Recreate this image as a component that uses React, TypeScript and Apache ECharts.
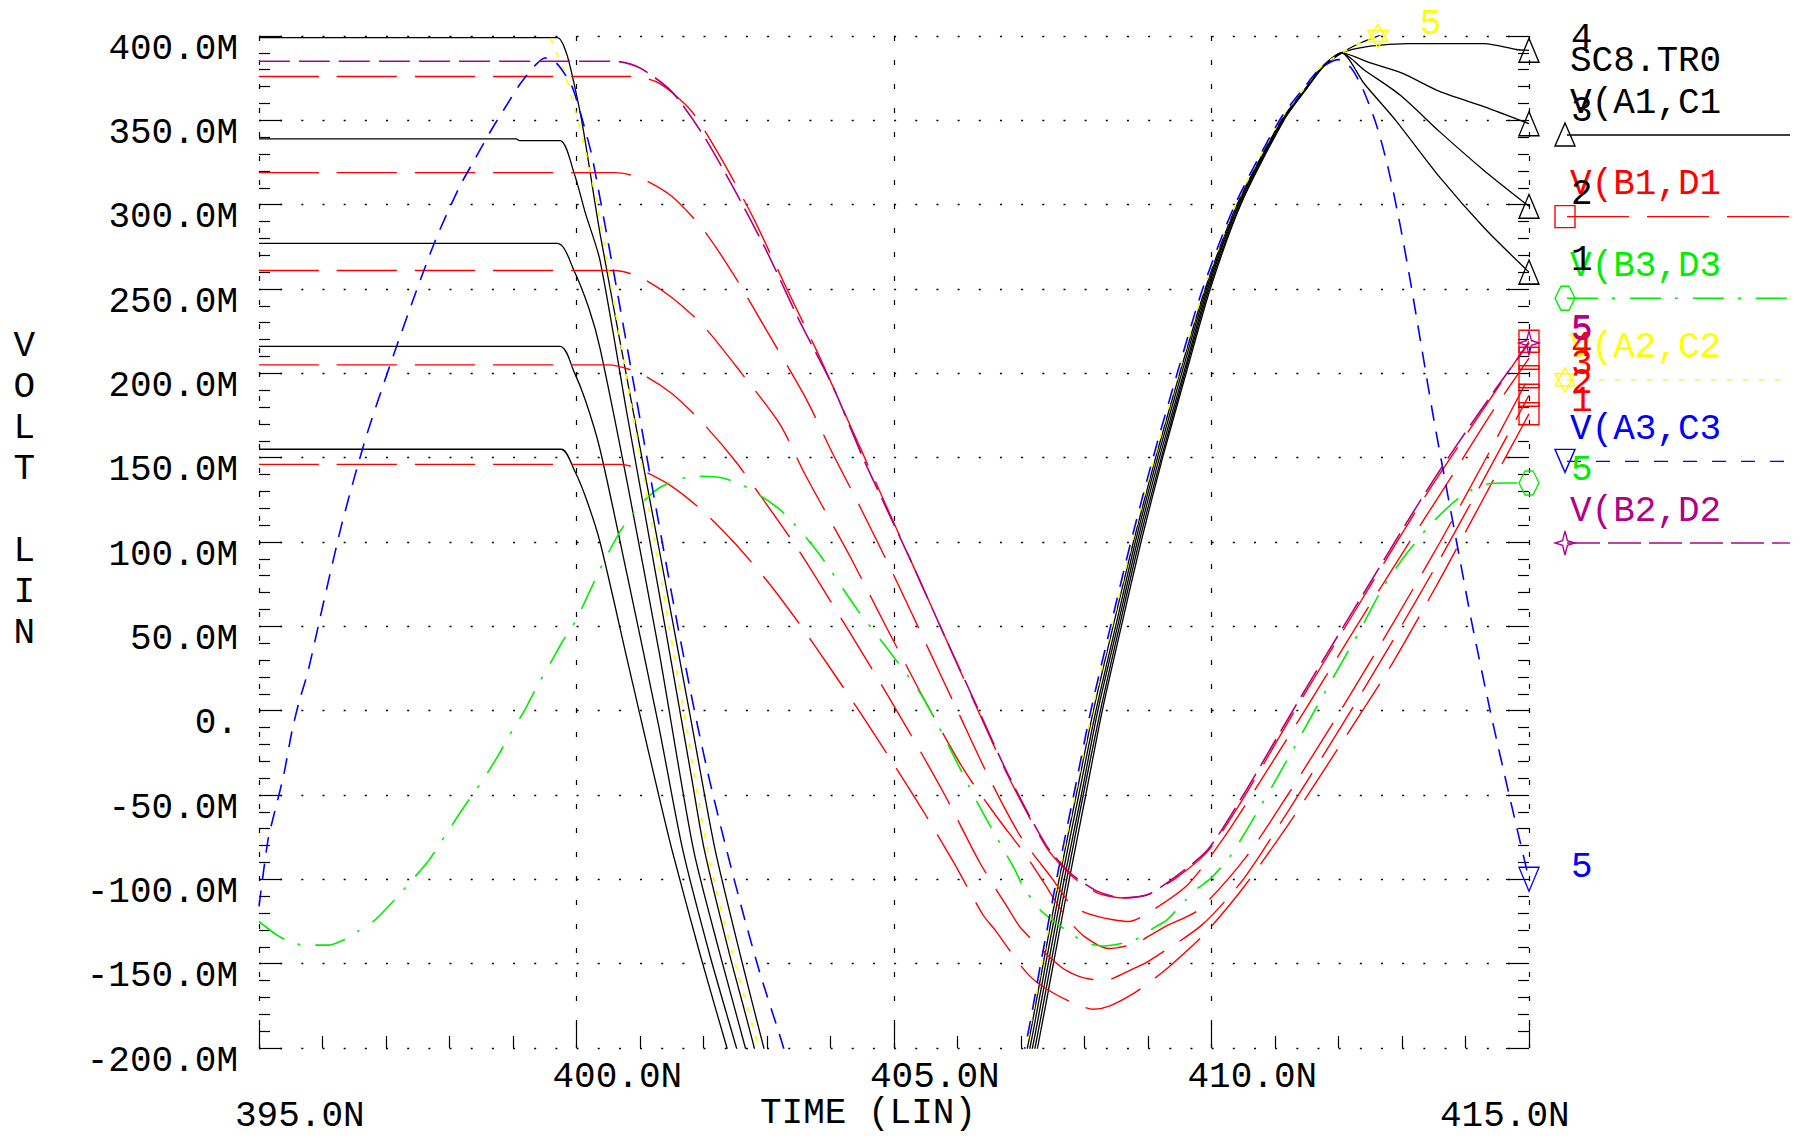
import React, { useEffect, useRef } from "react";
import * as echarts from "echarts";

const FONT = '"Liberation Mono", "DejaVu Sans Mono", monospace';

// ---------- texts ----------
const X_TICK_LABELS = ["395.0N", "400.0N", "405.0N", "410.0N", "415.0N"];
const X_LOW_ROW = [true, false, false, false, true];
const Y_TICK_LABELS = [
  "-200.0M", "-150.0M", "-100.0M", "-50.0M", "0.", "50.0M", "100.0M",
  "150.0M", "200.0M", "250.0M", "300.0M", "350.0M", "400.0M",
];
const X_NAME = "TIME (LIN)";
const Y_NAME = ["V", "O", "L", "T", " ", "L", "I", "N"];
const FILE_NAME = "SC8.TR0";
const SIGNAL_NAMES = ["V(A1,C1", "V(B1,D1", "V(B3,D3", "V(A2,C2", "V(A3,C3", "V(B2,D2"];

// ---------- data: [time (ns), value (mV)] ----------
// V(A1,C1), sweeps 1..5
const A1C1_1 = [[395,155],[399.76,155],[399.96,143],[400.14,127],[400.37,100],[400.8,30],[401.2,-35],[401.5,-82],[401.95,-145],[402.37,-200],[402.8,-255],[404.8,-340],[406.7,-265],[407.1,-200],[407.35,-150],[407.6,-100],[407.87,-50],[408.14,0],[408.45,50],[408.77,100],[409.12,150],[409.5,200],[409.9,250],[410.4,300],[411.1,350],[411.5,370],[411.75,382],[412.05,390],[412.4,372],[412.9,350],[413.6,316],[414.3,286],[415,260]];
const A1C1_2 = [[395,216],[399.74,216],[399.96,201],[400.14,184],[400.37,155],[400.8,80],[401.3,-10],[401.67,-82],[402.1,-145],[402.52,-200],[402.9,-250],[404.8,-340],[406.75,-265],[407.14,-200],[407.39,-150],[407.64,-100],[407.91,-50],[408.18,0],[408.49,50],[408.8,100],[409.15,150],[409.53,200],[409.92,250],[410.42,300],[411.11,350],[411.51,370],[411.75,382],[412.05,390],[412.4,380],[412.97,365],[413.6,343],[414.3,320],[415,299]];
const A1C1_3 = [[395,277],[399.7,277],[399.96,261],[400.2,238],[400.37,215],[400.8,135],[401.3,35],[401.84,-82],[402.25,-143],[402.66,-200],[403.0,-250],[404.8,-340],[406.8,-265],[407.18,-200],[407.43,-150],[407.68,-100],[407.95,-50],[408.21,0],[408.52,50],[408.83,100],[409.18,150],[409.56,200],[409.94,250],[410.43,300],[411.12,350],[411.51,370],[411.76,382],[412.05,390],[412.5,384],[413.0,378],[413.6,367],[414.3,358],[415,348]];
const A1C1_4 = [[395,339],[399.05,339],[399.1,338],[399.74,338],[399.96,319],[400.14,295],[400.37,267],[400.8,175],[401.3,70],[401.8,-37],[402.01,-82],[402.4,-143],[402.8,-200],[403.1,-250],[404.8,-340],[406.85,-265],[407.22,-200],[407.47,-150],[407.72,-100],[407.98,-50],[408.25,0],[408.55,50],[408.86,100],[409.21,150],[409.58,200],[409.96,250],[410.45,300],[411.13,350],[411.52,370],[411.76,382],[412.05,390],[412.5,394],[413.1,395.5],[414.3,395.5],[414.8,392],[415,391.5]];
const A1C1_5 = [[395,399],[399.7,399],[399.84,390],[399.96,372],[400.1,346],[400.37,283],[400.8,196],[401.3,96],[401.8,-5],[402.18,-82],[402.58,-145],[402.95,-200],[403.3,-250],[404.8,-340],[406.9,-265],[407.26,-200],[407.51,-150],[407.76,-100],[408.02,-50],[408.28,0],[408.58,50],[408.89,100],[409.23,150],[409.6,200],[409.98,250],[410.46,300],[411.14,350],[411.52,370],[411.77,382],[412.05,390],[412.35,396],[412.62,400],[413.0,408],[413.5,415],[414.2,420]];

// V(B1,D1), sweeps 1..5
const B1D1_1 = [[395,146],[400.7,146],[401.0,143],[401.5,133],[402.0,118],[402.5,99],[403.0,77],[403.5,52],[404.0,25],[404.5,-3],[405.0,-32],[405.5,-62],[405.94,-90],[406.4,-121],[406.59,-130],[407.08,-155],[407.36,-164],[407.8,-173],[408.14,-177],[408.4,-175],[408.8,-167],[409.13,-158],[409.36,-151],[409.9,-132],[410.5,-105],[411.2,-68],[412.0,-22],[412.8,25],[413.6,78],[414.3,127],[415,176]];
const B1D1_2 = [[395,205],[400.5,205],[401.0,200],[401.5,188],[402.0,170],[402.5,148],[403.0,122],[403.5,95],[404.0,65],[404.6,28],[405.2,-10],[405.8,-50],[406.35,-90],[406.81,-118],[407.0,-129],[407.63,-152],[407.95,-158],[408.31,-160],[408.77,-153],[409.03,-148],[409.85,-127],[410.5,-100],[411.2,-60],[412.0,-12],[412.8,38],[413.6,90],[414.3,138],[415,187]];
const B1D1_3 = [[395,261],[400.6,261],[401.0,257],[401.5,245],[402.0,228],[402.6,200],[403.2,170],[403.6,140],[404.3,92],[404.9,48],[405.5,5],[406.1,-35],[406.6,-62],[407.08,-86],[407.36,-102],[407.7,-122],[408.0,-134],[408.38,-141],[408.8,-138],[409.27,-128],[409.8,-118],[410.54,-87],[411.2,-50],[412.0,-2],[412.8,48],[413.6,100],[414.3,148],[415,198]];
const B1D1_4 = [[395,319],[400.6,319],[401.0,316],[401.5,305],[402.0,285],[402.5,257],[403.0,225],[403.6,186],[404.04,152],[404.41,125],[405.0,80],[405.5,40],[406.0,0],[406.5,-40],[407.0,-75],[407.5,-100],[407.81,-116],[408.2,-122],[408.7,-125],[409.0,-120],[409.63,-103],[410.2,-75],[410.8,-40],[411.5,2],[412.2,45],[413.0,93],[413.8,140],[414.4,176],[415,209]];
const B1D1_5 = [[395,376],[400.9,376],[401.3,372],[401.8,356],[402.3,326],[402.8,291],[403.3,251],[403.8,212],[404.3,170],[404.8,128],[405.3,86],[405.8,44],[406.3,2],[406.8,-39],[407.4,-81],[407.8,-98],[408.2,-108],[408.6,-111],[409.0,-109],[409.45,-99],[409.95,-83],[410.5,-52],[411.0,-20],[411.5,12],[412.0,43],[412.5,74],[413.0,105],[413.5,135],[414.0,163],[414.5,191],[415,219]];

// V(B3,D3)
const B3D3 = [[395,-125],[395.28,-133],[395.49,-137],[395.7,-139],[396.1,-139],[396.33,-136],[396.55,-131],[396.83,-124],[397.14,-112],[397.42,-100],[397.67,-89],[397.95,-73],[398.23,-57],[398.51,-42],[398.76,-27],[399.0,-11],[399.18,0],[399.36,13],[399.6,29],[399.78,41],[400.0,54],[400.1,62],[400.4,86],[400.7,107],[401.0,122],[401.3,132],[401.6,137],[401.9,139],[402.3,138],[402.7,132],[403.24,118],[403.78,95],[404.42,60],[404.87,38],[405.42,10],[405.78,-15],[406.32,-55],[406.72,-82],[406.9,-94],[407.03,-104],[407.3,-118],[407.63,-128],[407.99,-137],[408.3,-139.5],[408.7,-137],[408.9,-134],[409.08,-129],[409.3,-124],[409.6,-112],[409.76,-106],[410.0,-99],[410.3,-86],[410.8,-55],[411.3,-22],[411.8,12],[412.3,45],[412.7,73],[413.07,93],[413.49,112],[413.96,128],[414.3,134],[414.6,135],[415,135]];

// V(A2,C2)
const A2C2 = [[395,406],[399.5,406],[399.6,398],[399.69,390],[399.8,380],[399.93,363],[400.14,332],[400.32,301],[400.8,195],[401.3,85],[401.7,-3],[402.09,-88],[402.5,-150],[402.87,-200],[403.2,-245],[404.9,-330],[406.7,-260],[407.08,-200],[407.33,-150],[407.58,-100],[407.85,-50],[408.12,0],[408.43,50],[408.75,100],[409.1,150],[409.48,200],[409.88,250],[410.38,300],[411.08,350],[411.48,370],[411.73,382],[412.05,390],[412.35,396],[412.62,400],[413.0,408],[413.5,414]];

// V(A3,C3)
const A3C3 = [[395,-116],[395.14,-77],[395.24,-61],[395.39,-38],[395.52,-12],[395.63,5],[395.77,23],[395.95,53],[396.1,78],[396.3,110],[396.5,138],[396.7,164],[396.92,189],[397.13,212],[397.46,247],[397.79,280],[398.15,310],[398.4,327],[398.67,345],[398.85,356],[399.12,372],[399.36,383],[399.5,387],[399.62,386],[399.75,381],[399.93,370],[400.08,352],[400.23,331],[400.32,314],[400.6,257],[400.9,194],[401.2,131],[401.57,55],[401.89,-6],[402.1,-42],[402.36,-82],[402.63,-121],[402.9,-157],[403.23,-196],[403.5,-230],[405,-330],[406.6,-260],[407.06,-200],[407.31,-150],[407.56,-100],[407.83,-50],[408.1,0],[408.41,50],[408.73,100],[409.08,150],[409.46,200],[409.86,250],[410.37,300],[411.07,350],[411.47,370],[411.72,381],[412.0,386],[412.2,381],[412.39,368],[412.6,347],[412.78,322],[412.97,288],[413.13,255],[413.31,215],[413.49,175],[413.71,130],[413.9,92],[414.1,52],[414.4,-2],[414.7,-52],[415,-100]];

// V(B2,D2)
const B2D2 = [[395,385],[400.6,385],[401.0,381],[401.5,367],[402.0,341],[402.5,308],[403.0,272],[403.5,232],[404.04,192],[404.51,150],[404.83,124],[405.3,86],[405.8,44],[406.3,3],[406.8,-38],[407.4,-80],[407.8,-97],[408.2,-107],[408.6,-111],[409.0,-109],[409.45,-98],[409.95,-82],[410.5,-50],[411.0,-18],[411.5,14],[412.0,45],[412.5,76],[413.0,107],[413.5,137],[414.0,165],[414.5,192],[415,218]];

// ---------- styles ----------
const BLACK = "#000000";
const RED = "#ff0000";
const GREEN = "#00ee00";
const YELLOW = "#ffff00";
const BLUE = "#0000ff";
const MAGENTA = "#b0008c";

const SYM = {
  tri: "triangle",
  sq: "rect",
  hex: "path://M0,12L6,0L14,0L20,12L14,24L6,24Z",
  star6: "path://M10,0L20,17.5L0,17.5ZM0,6.5L20,6.5L10,24Z",
  triDown: "path://M0,0L20,0L10,24Z",
  star4: "path://M10,0L12.4,9.6L20,12L12.4,14.4L10,24L7.6,14.4L0,12L7.6,9.6Z",
};

const exitIndex = (pts: number[][]) => pts.findIndex((p) => p[0] > 410 && p[1] >= 400);
const lastIndex = (pts: number[][]) => pts.length - 1;

function lineSeries(
  name: string,
  pts: number[][],
  color: string,
  width: number,
  dash: any,
  markerIdx: number | null,
  symbol: string,
  z: number
) {
  const data = pts.map((p, i) =>
    markerIdx !== null && i === markerIdx
      ? {
          value: p,
          symbol,
          symbolSize: symbol === "rect" ? [20, 22] : [20, 24],
          itemStyle: { color: "rgba(0,0,0,0)", borderColor: color, borderWidth: 1.4, opacity: 1 },
        }
      : p
  );
  return {
    name,
    type: "line",
    data,
    symbol: "none",
    showSymbol: true,
    clip: true,
    smooth: 0.25,
    z,
    silent: true,
    lineStyle: { color, width, type: dash },
    emphasis: { disabled: true },
  };
}

function markerGraphic(kind: string, cx: number, cy: number, color: string): any {
  const style = { fill: "none", stroke: color, lineWidth: 1.4 };
  const poly = (points: number[][]) => ({ type: "polygon", shape: { points }, style });
  switch (kind) {
    case "tri":
      return poly([[cx, cy - 12], [cx + 10, cy + 11], [cx - 10, cy + 11]]);
    case "sq":
      return { type: "rect", shape: { x: cx - 10, y: cy - 11, width: 20, height: 22 }, style };
    case "hex":
      return poly([[cx - 10, cy], [cx - 4, cy - 12], [cx + 4, cy - 12], [cx + 10, cy], [cx + 4, cy + 12], [cx - 4, cy + 12]]);
    case "star6":
      return {
        type: "group",
        children: [
          poly([[cx, cy - 12], [cx + 10, cy + 6], [cx - 10, cy + 6]]),
          poly([[cx, cy + 12], [cx + 10, cy - 6], [cx - 10, cy - 6]]),
        ],
      };
    case "triDown":
      return poly([[cx - 10, cy - 12], [cx + 10, cy - 12], [cx, cy + 11]]);
    default:
      return poly([[cx, cy - 12], [cx + 2.4, cy - 2.4], [cx + 10, cy], [cx + 2.4, cy + 2.4], [cx, cy + 12], [cx - 2.4, cy + 2.4], [cx - 10, cy], [cx - 2.4, cy - 2.4]]);
  }
}

const textEl = (text: string, x: number, y: number, color: string) => ({
  type: "text",
  silent: true,
  style: {
    text,
    x,
    y,
    fill: color,
    fontSize: 36,
    fontFamily: FONT,
    textAlign: "left",
    textVerticalAlign: "middle",
  },
});

export default function App() {
  const ref = useRef<HTMLDivElement>(null);

  useEffect(() => {
    if (!ref.current) return;
    const chart = echarts.init(ref.current, null, { renderer: "svg" });

    const axisFont = { fontSize: 36, fontFamily: FONT, color: BLACK };

    const series = [
      lineSeries("A1C1_1", A1C1_1, BLACK, 1.3, "solid", lastIndex(A1C1_1), SYM.tri, 2),
      lineSeries("A1C1_2", A1C1_2, BLACK, 1.3, "solid", lastIndex(A1C1_2), SYM.tri, 2),
      lineSeries("A1C1_3", A1C1_3, BLACK, 1.3, "solid", lastIndex(A1C1_3), SYM.tri, 2),
      lineSeries("A1C1_4", A1C1_4, BLACK, 1.3, "solid", lastIndex(A1C1_4), SYM.tri, 2),
      lineSeries("A1C1_5", A1C1_5, BLACK, 1.3, "solid", null, SYM.tri, 2),
      lineSeries("B1D1_1", B1D1_1, RED, 1.4, [60, 18], lastIndex(B1D1_1), SYM.sq, 3),
      lineSeries("B1D1_2", B1D1_2, RED, 1.4, [60, 18], lastIndex(B1D1_2), SYM.sq, 3),
      lineSeries("B1D1_3", B1D1_3, RED, 1.4, [60, 18], lastIndex(B1D1_3), SYM.sq, 3),
      lineSeries("B1D1_4", B1D1_4, RED, 1.4, [60, 18], lastIndex(B1D1_4), SYM.sq, 3),
      lineSeries("B1D1_5", B1D1_5, RED, 1.4, [60, 18], lastIndex(B1D1_5), SYM.sq, 3),
      lineSeries("B3D3", B3D3, GREEN, 1.6, [31, 14, 3, 15], lastIndex(B3D3), SYM.hex, 4),
      lineSeries("A2C2", A2C2, YELLOW, 1.8, [5, 10], exitIndex(A2C2), SYM.star6, 5),
      lineSeries("A3C3", A3C3, BLUE, 1.6, [16, 11], lastIndex(A3C3), SYM.triDown, 6),
      lineSeries("B2D2", B2D2, MAGENTA, 1.6, [31, 9], lastIndex(B2D2), SYM.star4, 7),
    ];

    const option: any = {
      animation: false,
      backgroundColor: "#ffffff",
      textStyle: { fontFamily: FONT },
      grid: { left: 259, right: 274, top: 36, bottom: 90, containLabel: false, outerBoundsMode: "none" },
      xAxis: {
        type: "value",
        min: 395,
        max: 415,
        interval: 5,
        axisLine: { show: false, onZero: false },
        axisTick: { show: true, inside: true, length: 25, lineStyle: { color: BLACK, width: 1.2 } },
        minorTick: { show: true, splitNumber: 5, length: 12, lineStyle: { color: BLACK, width: 1.2 } },
        splitLine: { show: true, lineStyle: { color: BLACK, width: 1.2, type: [5, 19] } },
        axisLabel: {
          margin: 16,
          ...axisFont,
          formatter: (v: number) => {
            const i = Math.round((v - 395) / 5);
            const style = i === X_TICK_LABELS.length - 1 ? "loEnd" : X_LOW_ROW[i] ? "lo" : "hi";
            return `{${style}|${X_TICK_LABELS[i]}}`;
          },
          rich: {
            hi: { ...axisFont, width: 48, align: "left", lineHeight: 26 },
            lo: { ...axisFont, width: 48, align: "left", lineHeight: 26, padding: [78, 0, 0, 0] },
            loEnd: { ...axisFont, width: 178, align: "left", lineHeight: 26, padding: [78, 0, 0, 0] },
          },
        },
        name: X_NAME,
        nameLocation: "middle",
        nameGap: 52,
        nameMoveOverlap: false,
        nameTextStyle: { ...axisFont, lineHeight: 26, padding: [0, 52, 0, 0] },
      },
      yAxis: [
        {
          type: "value",
          min: -200,
          max: 400,
          interval: 50,
          position: "left",
          axisLine: { show: false, onZero: false },
          axisTick: { show: true, inside: true, length: 23, lineStyle: { color: BLACK, width: 1.2 } },
          minorTick: { show: true, splitNumber: 5, length: 11, lineStyle: { color: BLACK, width: 1.2 } },
          splitLine: { show: true, lineStyle: { color: BLACK, width: 1.4, type: [2, 19.17] } },
          axisLabel: {
            margin: 21,
            ...axisFont,
            verticalAlign: "top",
            lineHeight: 26,
            formatter: (v: number) => Y_TICK_LABELS[Math.round((v + 200) / 50)],
          },
          // stacked letters; a tall blank last line lifts the block above the axis centre
          name: Y_NAME.map((c) => `{ch|${c}}`).join("\n") + "\n{pad| }",
          nameLocation: "middle",
          nameRotate: 0,
          nameGap: 224,
          nameMoveOverlap: false,
          nameTextStyle: {
            ...axisFont,
            rich: {
              ch: { ...axisFont, lineHeight: 41 },
              pad: { ...axisFont, lineHeight: 104 },
            },
          },
        },
        {
          type: "value",
          min: -200,
          max: 400,
          interval: 50,
          position: "right",
          axisLine: { show: false, onZero: false },
          axisTick: { show: true, inside: true, length: 23, lineStyle: { color: BLACK, width: 1.2 } },
          minorTick: { show: true, splitNumber: 5, length: 11, lineStyle: { color: BLACK, width: 1.2 } },
          splitLine: { show: false },
          axisLabel: { show: false },
        },
      ],
      series,
    };

    chart.setOption(option);

    // ----- legend (right side) -----
    const legendLineY0 = 135;
    const legendStep = 81.6;
    const legendStyles = [
      { color: BLACK, dash: null, marker: "tri" },
      { color: RED, dash: [62, 18], marker: "sq" },
      { color: GREEN, dash: [31, 14, 3, 15], marker: "hex" },
      { color: YELLOW, dash: [5, 11], marker: "star6" },
      { color: BLUE, dash: [14, 15], marker: "triDown" },
      { color: MAGENTA, dash: [33, 8], marker: "star4" },
    ];
    const graphics: any[] = [textEl(FILE_NAME, 1570, 61, BLACK)];
    SIGNAL_NAMES.forEach((name, i) => {
      const st = legendStyles[i];
      const ly = legendLineY0 + i * legendStep;
      graphics.push(textEl(name, 1570, ly - 32, st.color));
      graphics.push({
        type: "line",
        silent: true,
        shape: { x1: 1567, y1: ly, x2: 1790, y2: ly },
        style: { stroke: st.color, lineWidth: 1.4, lineDash: st.dash || undefined },
      });
      graphics.push(markerGraphic(st.marker, 1565, ly, st.color));
    });

    // ----- curve number tags at the end of each curve -----
    const tags = [
      { pts: A1C1_1, idx: lastIndex(A1C1_1), text: "1", color: BLACK },
      { pts: A1C1_2, idx: lastIndex(A1C1_2), text: "2", color: BLACK },
      { pts: A1C1_3, idx: lastIndex(A1C1_3), text: "3", color: BLACK },
      { pts: A1C1_4, idx: lastIndex(A1C1_4), text: "4", color: BLACK },
      { pts: B1D1_5, idx: lastIndex(B1D1_5), text: "5", color: RED },
      { pts: B1D1_4, idx: lastIndex(B1D1_4), text: "4", color: RED },
      { pts: B1D1_3, idx: lastIndex(B1D1_3), text: "3", color: RED },
      { pts: B1D1_2, idx: lastIndex(B1D1_2), text: "2", color: RED },
      { pts: B1D1_1, idx: lastIndex(B1D1_1), text: "1", color: RED },
      { pts: B2D2, idx: lastIndex(B2D2), text: "5", color: MAGENTA },
      { pts: B3D3, idx: lastIndex(B3D3), text: "5", color: GREEN },
      { pts: A3C3, idx: lastIndex(A3C3), text: "5", color: BLUE },
      { pts: A2C2, idx: exitIndex(A2C2), text: "5", color: YELLOW },
    ];
    tags.forEach((t) => {
      const px = chart.convertToPixel({ xAxisIndex: 0, yAxisIndex: 0 }, t.pts[t.idx]) as number[];
      graphics.push(textEl(t.text, px[0] + 42, px[1] - 12, t.color));
    });

    chart.setOption({ graphic: { elements: graphics } });

    return () => chart.dispose();
  }, []);

  return (
    <div
      ref={ref}
      style={{ position: "fixed", left: 0, top: 0, width: "100vw", height: "100vh", background: "#fff" }}
    />
  );
}
